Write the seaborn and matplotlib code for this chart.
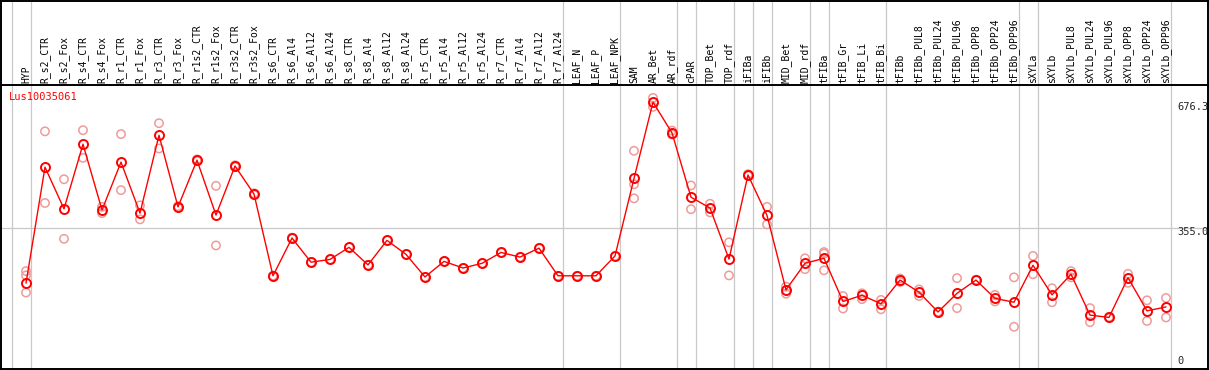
import numpy as np
import pandas as pd
import matplotlib
matplotlib.use("Agg")
import matplotlib.pyplot as plt
import seaborn as sns

# sample names (column headers)
samples = ["HYP",
           "R_s2_CTR", "R_s2_Fox", "R_s4_CTR", "R_s4_Fox", "R_r1_CTR", "R_r1_Fox",
           "R_r3_CTR", "R_r3_Fox", "R_r1s2_CTR", "R_r1s2_Fox", "R_r3s2_CTR", "R_r3s2_Fox",
           "R_s6_CTR", "R_s6_Al4", "R_s6_Al12", "R_s6_Al24",
           "R_s8_CTR", "R_s8_Al4", "R_s8_Al12", "R_s8_Al24",
           "R_r5_CTR", "R_r5_Al4", "R_r5_Al12", "R_r5_Al24",
           "R_r7_CTR", "R_r7_Al4", "R_r7_Al12", "R_r7_Al24",
           "LEAF_N", "LEAF_P", "LEAF_NPK", "SAM", "AR_Bet", "AR_rdf", "cPAR",
           "TOP_Bet", "TOP_rdf", "iFIBa", "iFIBb", "MID_Bet", "MID_rdf",
           "tFIBa", "tFIB_Gr", "tFIB_Li", "tFIB_Bi", "tFIBb",
           "tFIBb_PUL8", "tFIBb_PUL24", "tFIBb_PUL96", "tFIBb_OPP8", "tFIBb_OPP24", "tFIBb_OPP96",
           "sXYLa", "sXYLb",
           "sXYLb_PUL8", "sXYLb_PUL24", "sXYLb_PUL96", "sXYLb_OPP8", "sXYLb_OPP24", "sXYLb_OPP96"]

# mean expression per sample
mean_expr = [214,
             512, 405, 571, 402, 525, 394, 594, 410, 530, 389, 515, 443,
             233, 330, 268, 275, 306, 261, 324, 288, 230, 270, 253, 265,
             293, 281, 304, 233, 233, 233, 284, 483, 679, 600, 435,
             407, 276, 492, 388, 197, 265, 278, 167, 183, 161, 222,
             191, 140, 188, 222, 175, 165, 260, 184,
             237, 132, 126, 228, 143, 153]

nan = np.nan
# individual replicates
rep_a = [245,
         604, 481, 607, 410, 597, 414, 625, 412, 532, 464, 517, 445,
         233, 331, 268, 275, 306, 261, 324, 288, 230, 270, 253, 265,
         293, 281, 304, 233, 233, 233, 284, 554, 690, 606, 465,
         418, 319, 494, 410, 205, 278, 294, 181, 188, 171, 226,
         198, 141, 227, 223, 184, 229, 284, 201,
         245, 150, 127, 238, 170, 176]
rep_b = [234,
         420, 328, 536, 394, 453, 378, 560, 408, 528, 311, 513, 441,
         233, 329, nan, nan, nan, nan, nan, nan, nan, nan, nan, nan,
         nan, nan, nan, nan, nan, nan, nan, 468, 667, 596, 404,
         396, 234, 490, 365, 187, 250, 290, 149, 173, 147, 217,
         181, 139, 150, 221, 167, 102, 237, 165,
         229, 114, 125, 215, 117, 126]
rep_c = [190] + [nan] * 31 + [432] + [nan] * 9 + [247] + [nan] * 18

y_top_label = "676.3"
y_mid_label = "355.0"
y_mid = 355.0
gene = "Lus10035061"

# column separators (line drawn just after these column indices)
separators = [-1, 0, 28, 31, 34, 35, 37, 38, 39, 41, 42, 45, 52, 53, 60]

sns.set_style("white")
plt.rcParams["font.family"] = ["DejaVu Sans Mono"]

fig = plt.figure(figsize=(12.09, 3.70), dpi=100)
ax = fig.add_axes([0, 0, 1, 1])
ax.set_axis_off()

# pixel <-> data mapping
def px_x(px):
    return (px - 26) / 19.0

def px_y(py):
    return (366.5 - py) / 0.3893

ax.set_xlim(px_x(0), px_x(1209))
ax.set_ylim(px_y(370), px_y(0))

x = np.arange(len(samples))
reps = pd.DataFrame({"x": np.concatenate([x, x, x]),
                     "val": np.concatenate([rep_a, rep_b, rep_c])}).dropna()
means = pd.DataFrame({"x": x, "val": mean_expr})

# grid lines
for s in separators:
    ax.axvline(s + 0.25, color="#c8c8c8", lw=0.9, zorder=1)
ax.axhline(y_mid, color="#c8c8c8", lw=0.9, zorder=1)

sns.scatterplot(data=reps, x="x", y="val", ax=ax, marker="o", s=36,
                color="#f09a9a", facecolor="none", edgecolor="#f09a9a",
                linewidth=1.1, zorder=3, legend=False)
sns.lineplot(data=means, x="x", y="val", ax=ax, color="red", lw=1.0,
             marker="o", markersize=6.5, mfc="none", mec="red", mew=1.4,
             zorder=4, legend=False)

# frame and header separator
ax.axhline(px_y(85.3), color="black", lw=1.4, zorder=5)
ax.axhline(px_y(0.7), color="black", lw=1.4, zorder=5)
ax.axhline(px_y(368.5), color="black", lw=1.4, zorder=5)
ax.axvline(px_x(1.2), color="black", lw=1.4, zorder=5)
ax.axvline(px_x(1207.5), color="black", lw=1.4, zorder=5)

for i, name in enumerate(samples):
    ax.text(i, px_y(83), name, rotation=90, ha="center", va="bottom",
            fontsize=7, color="black")

ax.text(px_x(9), px_y(97), gene, ha="left", va="center", fontsize=7.5, color="red")
ax.text(px_x(1177), px_y(102), y_top_label, ha="left", va="top", fontsize=7.5)
ax.text(px_x(1177), px_y(227), y_mid_label, ha="left", va="top", fontsize=7.5)
ax.text(px_x(1177), px_y(366), "0", ha="left", va="bottom", fontsize=7.5)

ax.set_xlabel("")
ax.set_ylabel("")
fig.savefig("out.png", dpi=100)
